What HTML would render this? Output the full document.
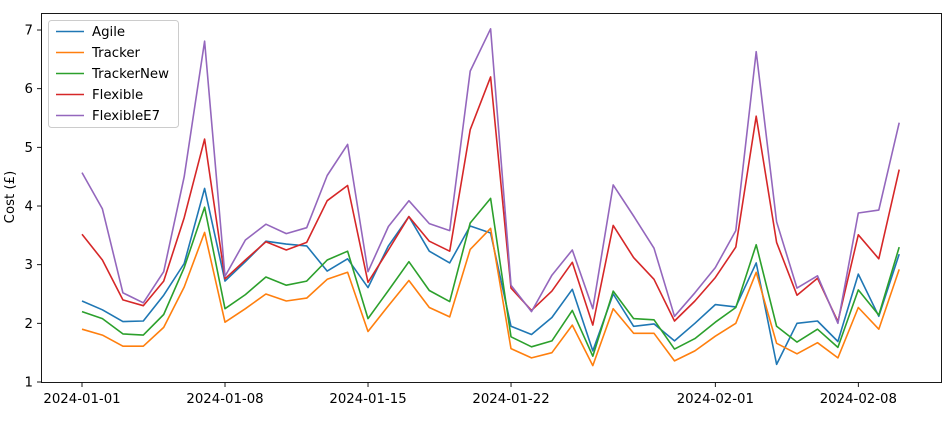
<!DOCTYPE html>
<html><head><meta charset="utf-8"><style>
html,body{margin:0;padding:0;background:#fff}
svg{display:block;font-family:"DejaVu Sans","Liberation Sans",sans-serif}
</style></head><body>
<svg id="chart" width="952" height="426" viewBox="0 0 952 426" xmlns="http://www.w3.org/2000/svg">
<rect x="0" y="0" width="952" height="426" fill="#fff"/>
<g id="series"></g>
<rect x="41.5" y="13.5" width="900" height="369" fill="none" stroke="#000" stroke-width="0.9"/>
<g id="axes"></g>
<text transform="translate(14,197) rotate(-90)" text-anchor="middle" font-size="13.3">Cost (£)</text>
<g id="legend"></g>
</svg>
<script>
const seriesNames = ["Agile","Tracker","TrackerNew","Flexible","FlexibleE7"];
const colors = ["#1f77b4","#ff7f0e","#2ca02c","#d62728","#9467bd"];
const agile = [2.38,2.23,2.03,2.04,2.48,3.02,4.30,2.72,3.05,3.40,3.35,3.32,2.89,3.10,2.61,3.32,3.82,3.23,3.03,3.66,3.54,1.95,1.81,2.10,2.58,1.53,2.50,1.95,1.99,1.70,2.00,2.32,2.28,3.03,1.30,2.00,2.04,1.69,2.84,2.12,3.18];
const tracker = [1.90,1.80,1.61,1.61,1.93,2.62,3.55,2.02,2.25,2.50,2.38,2.43,2.75,2.87,1.86,2.30,2.73,2.27,2.11,3.26,3.62,1.57,1.41,1.50,1.97,1.28,2.25,1.83,1.83,1.36,1.53,1.78,2.00,2.87,1.66,1.48,1.67,1.41,2.27,1.90,2.92];
const trackerNew = [2.20,2.08,1.82,1.80,2.15,2.95,3.98,2.25,2.49,2.79,2.65,2.72,3.08,3.23,2.08,2.56,3.05,2.56,2.37,3.71,4.13,1.77,1.60,1.70,2.22,1.44,2.55,2.08,2.06,1.56,1.74,2.02,2.27,3.34,1.95,1.68,1.90,1.59,2.57,2.14,3.30];
const flexible = [3.52,3.08,2.40,2.30,2.72,3.80,5.14,2.76,3.08,3.39,3.25,3.38,4.09,4.35,2.70,3.25,3.82,3.40,3.23,5.30,6.20,2.60,2.22,2.55,3.04,1.97,3.67,3.12,2.75,2.04,2.38,2.78,3.30,5.53,3.38,2.48,2.77,2.03,3.51,3.10,4.62];
const flexibleE7 = [4.57,3.95,2.52,2.35,2.88,4.50,6.81,2.80,3.42,3.69,3.53,3.63,4.52,5.05,2.88,3.65,4.09,3.70,3.58,6.30,7.02,2.65,2.20,2.82,3.25,2.25,4.36,3.83,3.28,2.12,2.52,2.95,3.58,6.63,3.73,2.60,2.81,2.00,3.88,3.93,5.42];
const yTicks = [1,2,3,4,5,6,7];
const xTickLabels = ["2024-01-01","2024-01-08","2024-01-15","2024-01-22","2024-02-01","2024-02-08"];
const xTickDays = [0,7,14,21,31,38];

const NS="http://www.w3.org/2000/svg";
const X0=82, DX=20.43, YTOP=13, YBOT=382, YMIN=1.0, YMAX=7.29;
function xs(d){return X0+DX*d;}
function ys(v){return YBOT-(v-YMIN)/(YMAX-YMIN)*(YBOT-YTOP);}
function mk(tag,attrs,parent){const e=document.createElementNS(NS,tag);for(const k in attrs)e.setAttribute(k,attrs[k]);parent.appendChild(e);return e;}

const all=[agile,tracker,trackerNew,flexible,flexibleE7];
const sg=document.getElementById("series");
all.forEach((arr,i)=>{
  const p=mk("polyline",{points:arr.map((v,d)=>xs(d).toFixed(1)+","+ys(v).toFixed(1)).join(" "),fill:"none",stroke:colors[i],"stroke-width":"1.6","stroke-linejoin":"round"},sg);
  
  
});

const ag=document.getElementById("axes");
yTicks.forEach(t=>{
  const y=ys(t);
  const l=mk("line",{x1:37,x2:41.5,y1:y,y2:y,stroke:"#000","stroke-width":"0.9"},ag);
  
  
  const tx=mk("text",{x:33,y:y+4.5,"text-anchor":"end","font-size":"13.3"},ag);
  tx.textContent=t;
  
  
});
xTickDays.forEach((d,i)=>{
  const x=xs(d);
  const l=mk("line",{x1:x,x2:x,y1:382.5,y2:387,stroke:"#000","stroke-width":"0.9"},ag);
  
  
  const tx=mk("text",{x:x,y:403,"text-anchor":"middle","font-size":"13.3"},ag);
  tx.textContent=xTickLabels[i];
  
  
});

const lg=document.getElementById("legend");


mk("rect",{x:48.5,y:20.5,width:130,height:107,rx:3,fill:"#fff","fill-opacity":"0.8",stroke:"#ccc","stroke-width":"1"},lg);
seriesNames.forEach((n,i)=>{
  const y=31.5+21*i;
  const g=mk("g",{},lg);
  
  
  mk("line",{x1:56,x2:84,y1:y,y2:y,stroke:colors[i],"stroke-width":"1.6"},g);
  const t=mk("text",{x:92,y:y+4.5,"font-size":"13.3"},g);
  t.textContent=n;
});
</script>
</body></html>
